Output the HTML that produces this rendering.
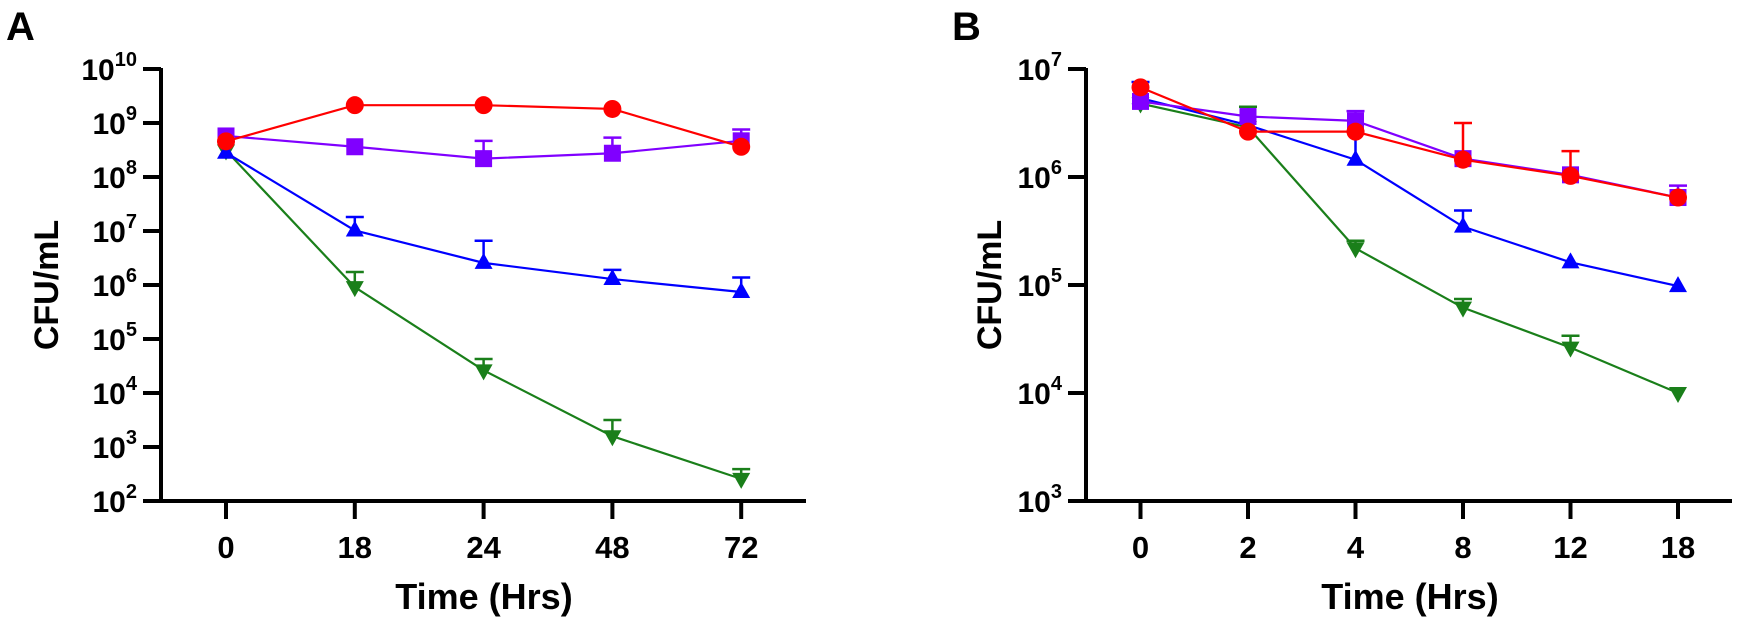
<!DOCTYPE html>
<html><head><meta charset="utf-8"><style>
html,body{margin:0;padding:0;background:#fff;}
svg{display:block;font-family:"Liberation Sans",Arial,sans-serif;font-weight:bold;}
</style></head><body>
<svg id="c" width="1739" height="621" viewBox="0 0 1739 621" xmlns="http://www.w3.org/2000/svg"></svg>
<script>
// Panel A data (log10 CFU/mL)
const catsA = ["0","18","24","48","72"];
const redA = [8.66, 9.33, 9.33, 9.26, 8.56];
const purpleA = [8.76, 8.56, 8.34, 8.44, 8.67];
const purpleErrA = [8.76, 8.56, 8.67, 8.73, 8.88];
const blueA = [8.45, 7.01, 6.41, 6.11, 5.87];
const blueErrA = [8.45, 7.26, 6.82, 6.28, 6.14];
const greenA = [8.49, 5.96, 4.42, 3.20, 2.41];
const greenErrA = [8.49, 6.24, 4.63, 3.50, 2.59];
const ticksA = [2,3,4,5,6,7,8,9,10];
// Panel B data (log10 CFU/mL)
const catsB = ["0","2","4","8","12","18"];
const redB = [6.83, 6.42, 6.42, 6.16, 6.01, 5.81];
const redErrB = [6.83, 6.42, 6.42, 6.50, 6.24, 5.81];
const purpleB = [6.70, 6.56, 6.52, 6.17, 6.02, 5.81];
const purpleErrB = [6.70, 6.56, 6.61, 6.17, 6.02, 5.92];
const blueB = [6.73, 6.48, 6.16, 5.54, 5.21, 4.99];
const blueErrB = [6.88, 6.48, 6.42, 5.69, 5.21, 4.99];
const greenB = [6.68, 6.46, 5.34, 4.79, 4.42, 4.00];
const greenErrB = [6.68, 6.65, 5.41, 4.87, 4.53, 4.00];
const ticksB = [3,4,5,6,7];

const NS="http://www.w3.org/2000/svg";
const svg=document.getElementById('c');
function mk(tag,attrs,parent){const e=document.createElementNS(NS,tag);for(const k in attrs)e.setAttribute(k,attrs[k]);(parent||svg).appendChild(e);return e;}

function panel(cfg){
  const g=mk('g',{});
  
  
  const y=v=>cfg.top+(cfg.ymax-v)*(cfg.bottom-cfg.top)/(cfg.ymax-cfg.ymin);
  const x=i=>cfg.x0+i*cfg.dx;
  const L=mk('text',{x:cfg.letterX,y:40,'font-size':40},g);L.textContent=cfg.letter;
  
  
  const ax=mk('path',{d:`M${cfg.axisX},${cfg.top-1}V${cfg.bottom}H${cfg.axisEnd}`,stroke:'#000','stroke-width':4,fill:'none'},g);
  
  
  cfg.yt.forEach(t=>{
    const yy=y(t);
    mk('line',{x1:cfg.axisX-18,x2:cfg.axisX,y1:yy,y2:yy,stroke:'#000','stroke-width':4},g);
    const tx=mk('text',{x:cfg.axisX-24,y:yy+11,'text-anchor':'end','font-size':30},g);
    
    
    const a=mk('tspan',{},tx);a.textContent='10';
    const b=mk('tspan',{'font-size':20,dy:-14},tx);b.textContent=String(t);
  });
  cfg.cats.forEach((c,i)=>{
    const xx=x(i);
    mk('line',{x1:xx,x2:xx,y1:cfg.bottom,y2:cfg.bottom+18,stroke:'#000','stroke-width':4},g);
    const t=mk('text',{x:xx,y:cfg.bottom+57,'text-anchor':'middle','font-size':31},g);t.textContent=c;
    
    
  });
  const xt=mk('text',{x:cfg.titleX,y:609,'text-anchor':'middle','font-size':36},g);xt.textContent='Time (Hrs)';
  
  
  const yt=mk('text',{x:0,y:0,'text-anchor':'middle','font-size':34,transform:`translate(${cfg.yTitleX},${(cfg.top+cfg.bottom)/2}) rotate(-90)`},g);yt.textContent='CFU/mL';
  
  
  cfg.series.forEach(s=>{
    const sg=mk('g',{},g);
    
    
    s.err.forEach((e,i)=>{
      if(e-s.vals[i]>0.04){
        const xx=x(i),y1=y(s.vals[i]),y2=y(e);
        mk('line',{x1:xx,x2:xx,y1:y1,y2:y2,stroke:s.color,'stroke-width':2.5},sg);
        mk('line',{x1:xx-9,x2:xx+9,y1:y2,y2:y2,stroke:s.color,'stroke-width':2.5},sg);
      }
    });
    mk('polyline',{points:s.vals.map((v,i)=>x(i)+','+y(v)).join(' '),fill:'none',stroke:s.color,'stroke-width':2.2},sg);
    s.vals.forEach((v,i)=>{
      const xx=x(i),yy=y(v);let m;
      if(s.shape==='circle')m=mk('circle',{cx:xx,cy:yy,r:9,fill:s.color},sg);
      else if(s.shape==='square')m=mk('rect',{x:xx-8.5,y:yy-8.5,width:17,height:17,fill:s.color},sg);
      else if(s.shape==='up')m=mk('path',{d:`M${xx},${yy-10}L${xx+9},${yy+6}L${xx-9},${yy+6}Z`,fill:s.color},sg);
      else m=mk('path',{d:`M${xx},${yy+10}L${xx+9},${yy-6}L${xx-9},${yy-6}Z`,fill:s.color},sg);
      
      
    });
  });
}
const RED='#ff0000',PUR='#8000ff',BLU='#0000ff',GRN='#1a7f1a';
panel({name:'panel-a',letter:'A',letterX:6,top:69,bottom:501,ymin:2,ymax:10,yt:ticksA,axisX:161,axisEnd:806,x0:226,dx:128.8,cats:catsA,titleX:484,yTitleX:58,
  series:[
    {name:'series-green',color:GRN,shape:'down',vals:greenA,err:greenErrA},
    {name:'series-blue',color:BLU,shape:'up',vals:blueA,err:blueErrA},
    {name:'series-purple',color:PUR,shape:'square',vals:purpleA,err:purpleErrA},
    {name:'series-red',color:RED,shape:'circle',vals:redA,err:redA}
  ]});
panel({name:'panel-b',letter:'B',letterX:952,top:69,bottom:501,ymin:3,ymax:7,yt:ticksB,axisX:1086,axisEnd:1732,x0:1140.5,dx:107.5,cats:catsB,titleX:1410,yTitleX:1001,
  series:[
    {name:'series-green',color:GRN,shape:'down',vals:greenB,err:greenErrB},
    {name:'series-blue',color:BLU,shape:'up',vals:blueB,err:blueErrB},
    {name:'series-purple',color:PUR,shape:'square',vals:purpleB,err:purpleErrB},
    {name:'series-red',color:RED,shape:'circle',vals:redB,err:redErrB}
  ]});
</script>
</body></html>
